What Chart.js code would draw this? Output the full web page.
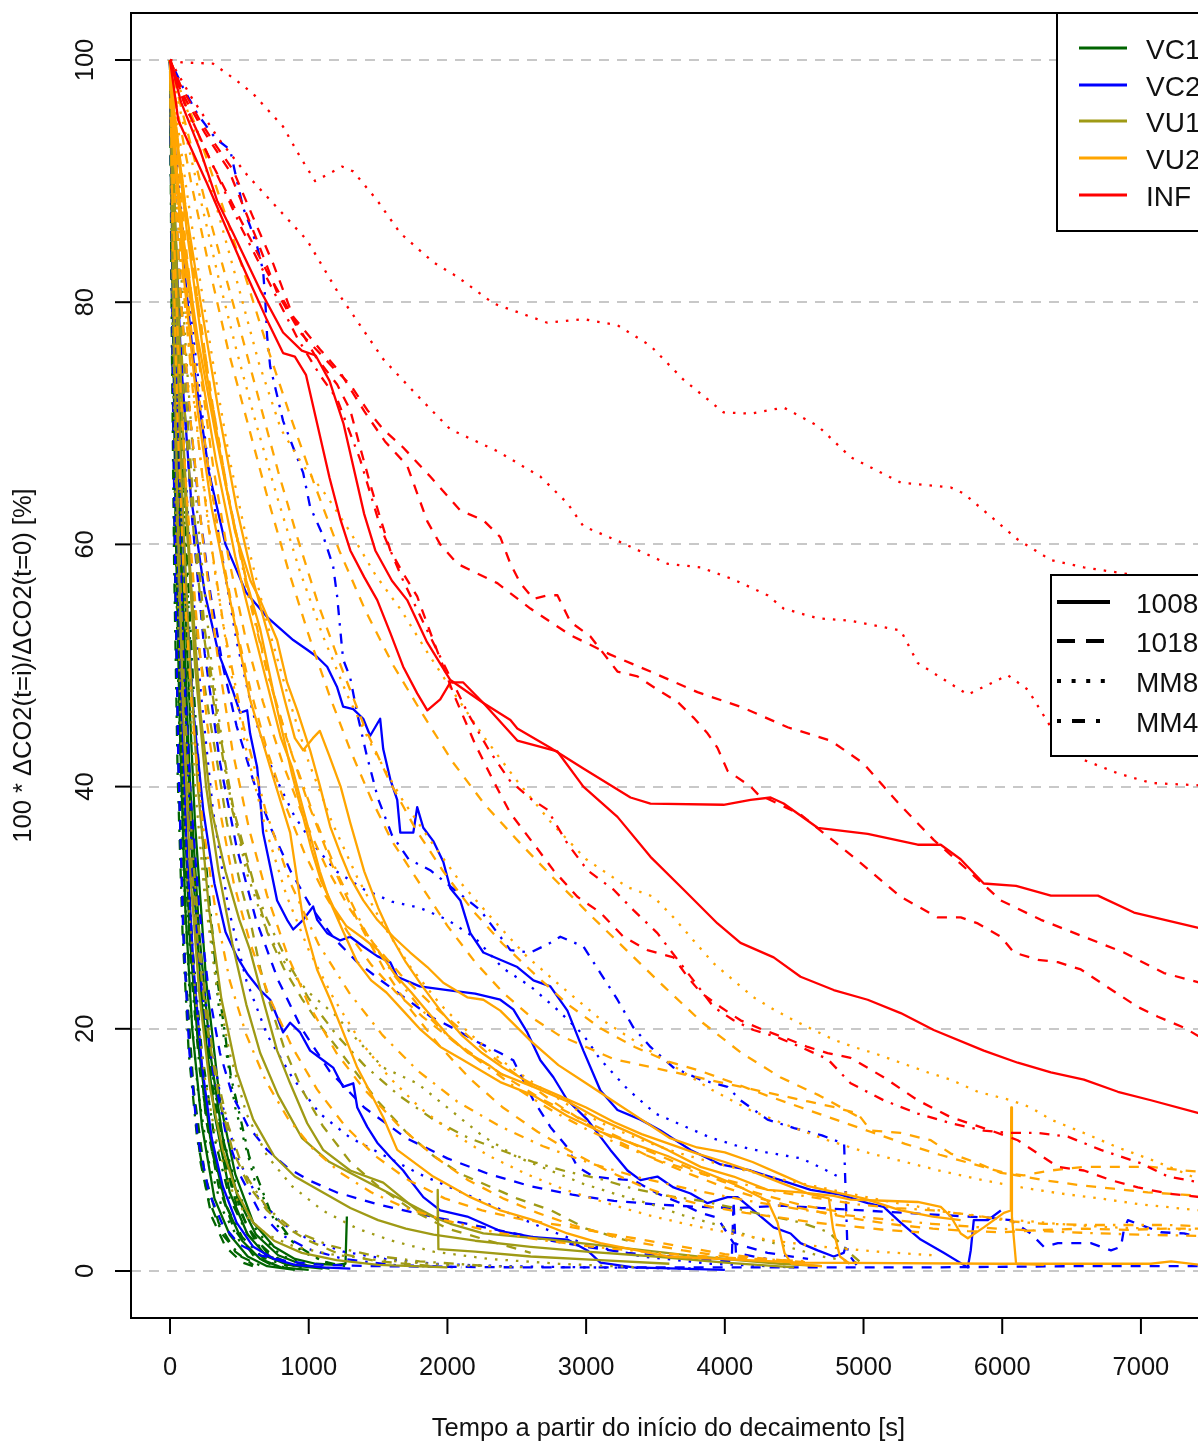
<!DOCTYPE html>
<html><head><meta charset="utf-8">
<script src="https://cdn.jsdelivr.net/npm/chart.js@4.4.1/dist/chart.umd.min.js"></script>
<style>
html,body{margin:0;padding:0;background:#fff;overflow:hidden;width:1198px;height:1441px}
#wrap{position:absolute;left:0;top:0;width:1230px;height:1441px}
</style></head>
<body><div id="wrap"><canvas id="c" width="1230" height="1441"></canvas></div>
<script>
// ---- ticks / labels ----
const X_TICKS = [0,1000,2000,3000,4000,5000,6000,7000];
const Y_TICKS = [0,20,40,60,80,100];
const X_TITLE = 'Tempo a partir do início do decaimento [s]';
const Y_TITLE = '100 * \u0394CO2(t=i)/\u0394CO2(t=0) [%]';
const SITES = ['VC1','VC2','VU1','VU2','INF'];
const SITE_COLORS = ['#006400','#0000FF','#9F9A15','#FFA500','#FF0000'];
const SERIES = ['1008','1018','MM8','MM4'];

// ---- VC1 (dark green) ----
const VC1_1008 = [
 [[0,100],[20,80],[40,62],[70,45],[110,30],[160,20],[230,12],[320,6],[430,3],[560,1.2],[700,0.4],[900,0.1]],
 [[0,100],[25,78],[55,58],[90,42],[140,28],[200,19],[290,11],[400,5.5],[520,2.5],[650,1],[800,0.3],[1000,0.1]],
 [[0,100],[30,82],[60,66],[100,50],[160,34],[230,22],[320,13],[430,6.5],[560,3],[700,1.2],[850,0.5],[1100,0.2]],
 [[0,100],[35,85],[70,70],[120,52],[180,37],[260,24],[360,14],[470,8],[600,4],[750,2],[900,1],[1050,0.6],[1200,0.5],[1265,0.6],[1275,4.5]],
 [[0,100],[28,84],[58,68],[95,54],[145,40],[210,28],[290,18],[380,11],[490,6],[620,3],[780,1.3],[960,0.5],[1150,0.2]]
];
const VC1_1018 = [
 [[0,100],[15,80],[35,60],[60,42],[100,27],[150,17],[220,9],[300,4.5],[400,2],[520,0.7],[650,0.2]],
 [[0,100],[20,84],[45,66],[80,48],[125,33],[180,22],[260,12.5],[350,7],[460,3.5],[600,1.3],[750,0.4]],
 [[0,100],[25,87],[55,72],[95,55],[150,38],[220,25],[310,15],[420,8],[550,3.8],[700,1.5],[880,0.5]],
 [[0,100],[18,75],[40,55],[70,38],[110,25],[170,15],[250,8],[350,4],[470,1.6],[600,0.5]],
 [[0,100],[22,86],[50,70],[88,53],[135,39],[195,27],[275,17],[370,10],[480,5.5],[610,2.6],[770,1],[950,0.3]]
];
const VC1_MM8 = [
 [[0,100],[15,82],[35,64],[60,48],[95,34],[140,23],[200,15],[280,9],[380,5],[500,2.5],[650,1],[820,0.3]],
 [[0,100],[22,86],[50,70],[85,55],[130,41],[190,29],[270,19],[370,11.5],[490,6.5],[630,3.2],[800,1.3],[1000,0.4]],
 [[0,100],[28,88],[65,74],[110,60],[170,46],[250,33],[350,22],[470,13.5],[610,7.5],[770,3.8],[950,1.6],[1150,0.6]]
];
const VC1_MM4 = [
 [[0,100],[18,84],[40,68],[70,52],[110,38],[160,27],[230,18],[320,11],[430,6],[560,3],[720,1.2],[900,0.4]],
 [[0,100],[12,78],[30,58],[55,41],[90,28],[135,18],[195,11],[275,6],[380,3],[510,1.2],[660,0.4]],
 [[0,100],[25,90],[60,77],[105,63],[165,49],[240,36],[330,25],[440,16],[570,9.5],[720,5],[900,2.2],[1100,0.8],[1300,0.3]],
 [[0,100],[16,82],[38,64],[65,49],[100,36],[150,25],[215,16.5],[300,10],[400,5.5],[520,2.8],[670,1.1],[850,0.4]]
];

// ---- VC2 (blue) ----
const VC2_1008 = [
 [[0,100],[40,92],[100,83],[180,74],[280,66],[400,60],[550,56],[700,54],[888,52.1],[989,51.3],[1061,50.7],[1133,49.9],[1205,48.2],[1248,46.6],[1321,46.4],[1393,45.6],[1443,44.2],[1515,45.6],[1537,43.1],[1588,40.6],[1638,38.9],[1660,36.2],[1754,36.2],[1782,38.3],[1826,36.6],[1898,35.5],[1970,33.8],[2021,31.6],[2093,30.6],[2165,27.9],[2259,26.3],[2381,25.7],[2504,25.1],[2620,24],[2742,23.5],[2865,21.5],[2980,18.2],[3103,14.9],[3226,13.3],[3392,12.5],[3536,11.6],[3753,10],[3969,8.8],[4186,8.3],[4402,7.5],[4619,6.7],[4835,6.3],[5030,5.6],[5145,5.3],[5268,4],[5412,2.6],[5578,1.5],[5752,0.3],[5773,1.7],[5795,4.2],[5896,4.2],[5990,5]],
 [[0,100],[30,88],[80,75],[150,64],[250,56],[350,51],[450,48],[505,46.1],[556,46.3],[577,44.4],[628,41.6],[650,38.9],[671,36.2],[722,33.4],[772,30.6],[844,29],[888,28.2],[960,29],[1032,30.1],[1061,29],[1133,27.9],[1227,27.3],[1299,27.6],[1393,26.8],[1494,26],[1588,25.5],[1638,24.3],[1800,23.5],[2000,23.2],[2200,22.9],[2381,22.4],[2475,21.6],[2576,19.7],[2670,17.4],[2764,16],[2865,14.1],[3009,12.5],[3175,10],[3298,8.3],[3392,7.5],[3514,7.8],[3630,6.9],[3753,6.4],[3875,5.6],[4020,6.1],[4092,6.1],[4207,5],[4352,3.6],[4474,3.1],[4546,2.3],[4669,1.7],[4785,1.2],[4857,1.5],[4871,2]],
 [[0,100],[25,85],[60,70],[110,57],[170,46],[240,38],[320,32],[400,28],[480,26],[560,24.5],[650,23.2],[722,22.4],[772,21],[815,19.7],[866,20.5],[938,19.7],[1010,18.2],[1104,17.4],[1176,16.8],[1248,15.2],[1321,15.5],[1350,13.5],[1422,11.9],[1494,10.6],[1588,9.4],[1681,8.3],[1732,7.5],[1826,6.1],[1948,5],[2143,4.5],[2381,3.3],[2620,2.8],[2865,2.6],[3009,1.7],[3103,0.7],[3341,0.3],[4000,0.1]],
 [[0,100],[20,82],[45,65],[80,48],[120,35],[170,25],[230,17],[300,11],[380,7],[480,4],[600,2],[750,1],[900,0.5],[1100,0.3],[1300,0.2]]
];
const VC2_1018 = [
 [[0,100],[30,90],[80,80],[140,71],[210,63],[290,56],[380,50],[480,45],[600,40.5],[730,36.5],[870,33],[1020,30],[1180,27.5],[1350,25.5],[1520,24],[1700,22.5],[1880,21],[2050,20],[2200,19],[2381,18],[2475,17.4],[2620,14.1],[2742,11.9],[2865,10.2],[2937,8.6],[3053,7.8],[3200,7.6],[3341,7.5],[3514,6.4],[3680,5.6],[3825,4.8],[3947,4.4],[4063,2.3],[4308,1.5],[4600,1]],
 [[0,100],[25,82],[60,64],[100,50],[150,39],[210,30],[280,23],[360,18],[450,14.5],[560,12],[700,10],[850,8.5],[1000,7.5],[1200,6.5],[1500,5.5],[1800,4.7],[2100,4],[2400,3.3],[2700,2.6],[3000,2],[3300,1.5],[3600,1.2],[3900,0.9],[4050,0.8],[4063,5.8],[4080,1.5],[4300,1]],
 [[0,100],[15,80],[35,60],[60,42],[95,28],[140,18],[200,11],[280,6.5],[380,3.8],[500,2.2],[650,1.3],[850,0.8],[1100,0.5],[1500,0.4],[2500,0.3],[4000,0.3],[5500,0.3],[6500,0.4],[7430,0.4]],
 [[0,100],[35,88],[90,74],[160,62],[250,51],[360,42],[480,35],[620,29],[780,24],[950,20],[1150,16.5],[1400,13.5],[1700,11],[2000,9.3],[2300,8],[2600,7],[2900,6.3],[3200,5.8],[3500,5.5],[3800,5.3],[4100,5.2],[4400,5.4],[4700,5.2],[5000,5],[5300,4.8],[5600,4.6],[5900,4.4],[6062,4.2],[6206,3.1],[6300,2],[6401,2.3],[6639,2.3],[6784,1.7],[6856,2],[6877,3.4],[6906,4.2],[7000,3.8],[7144,3.2],[7310,3.1],[7430,2.8]]
];
const VC2_MM8 = [
 [[0,100],[40,93],[100,85],[170,77],[260,68],[360,60],[480,52],[600,46],[750,41],[900,37.5],[1050,35],[1200,33],[1400,31.5],[1600,30.5],[1800,30],[2000,29],[2200,27.5],[2400,25],[2600,23.5],[2800,21.5],[2980,19.5],[3100,17.5],[3300,15],[3500,13],[3700,12],[3900,11],[4100,10.3],[4300,9.8],[4550,9.3],[4700,8.5],[4850,7.6]],
 [[0,100],[20,85],[50,68],[90,52],[140,38],[200,28],[280,20],[370,14],[480,9.5],[620,6.3],[800,4],[1000,2.6],[1250,1.6],[1550,1],[1900,0.6],[2400,0.4],[3000,0.3],[3800,0.2]],
 [[0,100],[30,88],[80,73],[140,60],[220,48],[310,38],[420,30],[550,24],[700,19.5],[880,16],[1080,13],[1300,11],[1550,9.5],[1800,8],[2100,6.5],[2400,5],[2700,3.5],[3000,2.2],[3400,1.2],[3900,0.6],[4500,0.3]]
];
const VC2_MM4 = [
 [[0,100],[94,97.7],[200,95.5],[330,93.5],[433,92.6],[483,90],[527,87.8],[577,86.3],[628,84.6],[671,82.6],[686,80.3],[700,77.2],[722,74.7],[772,72.3],[815,70.2],[888,68],[960,65.9],[1010,63.1],[1104,60.7],[1176,58.2],[1205,55.7],[1227,53],[1248,50.5],[1299,49],[1350,46],[1420,42.5],[1500,39],[1600,36],[1720,34],[1876,33.1],[2050,31.5],[2237,29.8],[2454,26.5],[2600,26.3],[2742,27.1],[2814,27.6],[2980,26.8],[3103,24.6],[3226,22.4],[3341,20.1],[3464,18.5],[3630,16.8],[3825,15.8],[4020,15.2],[4113,14.1],[4308,12.5],[4500,11.8],[4700,11.2],[4860,10.5],[4885,1.5],[4950,0.5]],
 [[0,100],[18,84],[42,68],[75,53],[115,41],[165,31],[230,23],[310,16.5],[400,11.5],[510,7.8],[640,5],[800,3],[1000,1.8],[1250,1],[1600,0.5],[2100,0.3]]
];

// ---- VU1 (olive) ----
const VU1_1008 = [
 [[0,100],[40,85],[90,70],[150,57],[220,46],[300,38],[400,33],[500,29],[577,26.5],[671,22.4],[772,18.2],[866,15.5],[989,12.2],[1104,10],[1299,8.3],[1537,7.3],[1782,5],[2021,3.9],[2259,3.1],[2742,2.6],[3200,2],[3800,1.2],[4400,0.6],[4700,0.4]],
 [[0,100],[50,82],[110,64],[180,50],[260,40],[350,33],[450,27],[550,22],[650,18],[780,14.5],[950,11],[1150,9],[1400,7.5],[1650,6],[1900,4.5],[1925,4.2],[1930,6.7],[1935,1.8],[2200,1.6],[2600,1.2],[3100,0.9],[3600,0.6]],
 [[0,100],[25,80],[55,62],[95,46],[145,33],[210,23],[290,15],[380,10],[480,6.5],[600,4],[750,2.5],[950,1.5],[1200,0.9],[1500,0.5],[2000,0.3]],
 [[0,100],[35,83],[80,66],[135,52],[200,40],[280,30],[370,22.5],[480,16.5],[600,12.5],[750,9.5],[900,7.8],[1100,6.5],[1300,5.2],[1500,4.2],[1700,3.5],[1900,3],[2200,2.5],[2600,2],[3000,1.6],[3500,1.2],[4000,0.7],[4500,0.3]]
];
const VU1_1018 = [
 [[0,100],[30,84],[70,70],[130,60],[200,52],[280,46],[340,42],[410,37],[505,32],[577,29],[650,25],[722,22],[820,18.5],[950,15],[1100,12],[1300,9],[1500,7],[1750,5],[2000,3.5],[2300,2.5],[2600,1.5]],
 [[0,100],[20,80],[50,62],[90,47],[140,36],[200,27],[270,20],[350,14.5],[450,10],[570,7],[700,5],[850,3.5],[1000,2.5],[1200,1.5],[1500,0.8],[1900,0.4]],
 [[0,100],[40,88],[100,75],[170,63],[250,53],[350,45],[460,38],[580,33],[700,28],[820,25],[950,22.5],[1100,20],[1300,17],[1500,14],[1700,11.5],[1900,9.5],[2100,8],[2300,7],[2500,6],[2750,5],[3000,3.5],[3300,2.5]]
];
const VU1_MM8 = [
 [[0,100],[50,88],[120,75],[200,62],[300,50],[420,40],[550,33],[700,28],[850,25],[1000,23],[1205,21],[1299,19.7],[1422,18.2],[1537,16.8],[1782,15.5],[2021,13.3],[2259,11.1],[2504,9.4],[2742,8.3],[2980,7.2],[3230,6.3],[3470,5.5],[3700,4.6],[3950,3.8],[4200,2.8],[4450,2],[4700,1.2],[5000,0.6]],
 [[0,100],[30,82],[70,66],[120,52],[180,40],[250,31],[330,24],[430,18],[550,13],[700,9.5],[880,7],[1100,5],[1350,3.5],[1600,2.5],[1900,1.6],[2300,1],[2800,0.6],[3400,0.3]],
 [[0,100],[20,78],[45,60],[80,44],[125,32],[180,23],[250,16],[330,11],[430,7],[550,4.5],[700,3],[900,2],[1150,1.4],[1500,0.9],[2000,0.5],[2600,0.3]]
];
const VU1_MM4 = [
 [[0,100],[40,86],[100,72],[170,61],[250,52],[340,45],[450,38],[570,33],[700,29],[850,25.5],[1000,22.5],[1200,19.5],[1400,17],[1650,14.5],[1900,12.5],[2150,11],[2381,10],[2620,9],[2865,8.2],[3103,7.6],[3340,6.8],[3590,6.2],[3830,5.8],[4070,5.2],[4300,4.6],[4550,4],[4750,3.2],[4900,1.5],[5000,0.5]],
 [[0,100],[25,80],[60,62],[105,47],[160,35],[230,25],[320,17],[420,12],[540,8],[700,5.2],[900,3.3],[1150,2.1],[1450,1.3],[1800,0.8],[2300,0.4]]
];

// ---- VU2 (orange) ----
const VU2_1008 = [
 [[0,100],[40,92],[100,82],[200,71],[300,63],[433,55.4],[577,47.2],[722,41.6],[866,36.2],[960,29],[1060,24.9],[1155,22.4],[1350,16.8],[1537,12.7],[1638,10],[1898,7.8],[2165,6.1],[2381,5],[2620,4.2],[2865,3.1],[3103,2.3],[3587,1.2],[4546,0.7],[5990,0.6],[7072,0.6],[7217,0.8],[7430,0.5]],
 [[0,100],[40,94],[120,86],[250,75],[400,65],[550,57],[650,53],[760,47],[880,41],[960,37.5],[1020,34.8],[1090,32.2],[1180,30],[1270,28.5],[1390,27.5],[1500,26.5],[1620,24.5],[1740,23],[1850,21.5],[2000,19.5],[2150,18],[2300,17],[2381,16.3],[2620,15.2],[2865,14],[3103,12.5],[3341,11.3],[3587,10],[3825,8.6],[4063,7.8],[4308,6.7],[4546,6.5],[4785,6.2],[4907,5.9],[5150,5.8],[5391,5.7],[5557,5.3],[5629,4.5],[5701,3.1],[5752,2.7],[5867,3.6],[6012,4.8],[6062,5],[6065,13.5],[6070,4.5],[6100,0.6],[6300,0.5]],
 [[0,100],[30,92],[100,84],[200,76],[330,67],[470,59],[600,53],[700,48.5],[800,44],[880,41.6],[940,39],[1010,36],[1080,33],[1150,30.6],[1250,28],[1350,25.5],[1450,24],[1560,23],[1680,21.5],[1800,20],[1950,18.5],[2100,17.5],[2250,16.5],[2381,15.6],[2620,14.5],[2865,12.8],[3103,11.5],[3341,10.5],[3587,9.5],[3825,8.3],[4063,7.2],[4186,6.5],[4308,5.8],[4380,4],[4430,1.5],[4480,0.6],[4700,0.4]],
 [[0,100],[35,95],[110,88],[220,80],[350,71],[480,63],[600,57],[720,52],[830,47],[900,44],[960,43],[1030,44],[1080,44.6],[1150,42.5],[1230,40],[1300,37],[1400,33],[1500,30],[1600,27.5],[1700,25.5],[1820,23.5],[1950,21.5],[2100,19.5],[2250,18],[2400,16.8],[2600,15.5],[2800,14.5],[3000,13.5],[3200,12.3],[3400,11.3],[3600,10.5],[3800,9.7],[4000,9],[4200,8.2],[4400,7.3],[4600,6.4],[4750,6],[4780,3.5],[4830,1.2],[4900,0.6]],
 [[0,100],[30,93],[100,85],[200,77],[330,69],[470,61],[580,57],[650,55.4],[772,52.1],[844,48.6],[917,46.3],[1010,43],[1082,40],[1155,36.7],[1227,34.5],[1299,32.5],[1393,30.6],[1494,29],[1609,27.6],[1732,26.3],[1855,25.1],[1970,23.8],[2143,22.6],[2259,22.4],[2381,21.5],[2600,19],[2800,17],[3000,15.5],[3200,14],[3400,12.5],[3600,11],[3800,10.2],[4000,9.8],[4200,9],[4400,8],[4600,7],[4800,6.5],[5000,6],[5268,5],[5500,4.5],[5700,4.2]]
];
const VU2_1018 = [
 [[0,100],[50,96],[150,90],[280,83],[420,76],[560,70],[700,64],[850,58],[1000,52.5],[1150,47.5],[1300,43],[1450,39],[1600,35.5],[1800,32],[2000,28.5],[2200,25.5],[2400,23],[2600,21],[2800,19.5],[3000,18.5],[3200,17.5],[3400,17],[3600,16.5],[3800,16],[4000,15.5],[4200,15],[4400,14.5],[4600,14],[4800,13.5],[4958,13],[5052,11.6],[5268,11.4],[5485,10.8],[5629,9.7],[5824,8.9],[5990,8.1],[6156,7.9],[6351,8.3],[6589,8.6],[6834,8.6],[7072,8.6],[7310,8.3],[7430,8.2]],
 [[0,100],[30,90],[80,80],[150,70],[240,60],[340,51],[450,43],[570,36.5],[700,31],[850,26],[1000,22],[1200,18],[1400,15],[1650,12],[1900,9.5],[2150,7.5],[2400,6],[2650,4.8],[2900,3.8],[3150,3],[3400,2.3],[3700,1.7],[4000,1.2],[4400,0.8]],
 [[0,100],[40,95],[110,88],[200,80],[300,72],[420,64],[550,57],[690,50],[840,44],[1000,38.5],[1170,33.5],[1350,29],[1540,25],[1740,21.5],[1950,18.5],[2170,15.8],[2400,13.5],[2650,11.5],[2900,9.8],[3150,8.3],[3400,7],[3650,6],[3900,5.3],[4150,4.8],[4400,4.4],[4650,4],[4900,3.7],[5150,3.4],[5400,3.2]],
 [[0,100],[60,97],[150,93],[260,88],[380,83],[500,78],[640,72],[780,66],[920,60.5],[1070,55],[1230,50],[1400,45],[1580,40.5],[1770,36.5],[1970,33],[2180,29.8],[2400,27],[2630,24.5],[2870,22],[3110,20],[3350,18.5],[3590,17.3],[3830,16.5],[4070,15.5],[4300,14.5],[4550,13.5],[4800,12.5],[5050,11.5],[5300,10.5],[5550,9.6],[5800,8.8],[6050,8],[6300,7.5],[6550,7.1],[6800,6.8],[7050,6.5],[7300,6.3],[7430,6.2]],
 [[0,100],[20,88],[60,76],[120,64],[190,54],[270,45],[360,38],[460,32],[580,27],[720,22.5],[880,18.5],[1060,15],[1260,12],[1480,9.5],[1720,7.5],[1980,6],[2250,5],[2520,4.3],[2800,3.8],[3100,3.2],[3400,2.6],[3700,2],[4000,1.4],[4300,1],[4600,0.7]],
 [[0,100],[45,93],[120,84],[210,75],[310,66.5],[420,59],[540,52.5],[670,47],[810,42],[960,37.5],[1120,33.5],[1290,30],[1470,27],[1660,24.5],[1860,22.3],[2070,20.2],[2290,18],[2520,16],[2760,14],[3000,12.2],[3250,10.6],[3500,9.2],[3750,8],[4000,6.9],[4250,6],[4500,5.3],[4750,4.7],[5000,4.2],[5250,3.8],[5500,3.5],[5750,3.3],[6000,3.2],[6300,3.4],[6600,3.5],[6900,3.4],[7200,3.5],[7430,3.5]],
 [[0,100],[70,98],[170,95],[290,91],[420,86.5],[560,81.5],[710,76],[870,70.5],[1040,65],[1220,59.5],[1410,54.5],[1610,50],[1820,46],[2040,42],[2270,38.5],[2510,35.5],[2760,32.5],[3020,29.5],[3290,26.5],[3560,23.5],[3840,20.5],[4120,18],[4400,16],[4680,14.5],[5000,12.5]],
 [[0,100],[25,94],[70,87],[130,80],[200,73],[280,66],[370,59.5],[470,53.5],[580,48],[700,43],[830,38.5],[970,34.5],[1120,31],[1280,28],[1450,25.3],[1630,23],[1820,21],[2020,19.2],[2230,17.5],[2450,15.8],[2680,14.2],[2920,12.8],[3170,11.4],[3430,10],[3700,8.7],[3980,7.4],[4270,6.3],[4570,5.4],[4880,4.8]]
];
const VU2_MM8 = [
 [[0,100],[60,98],[150,95],[260,91],[380,86],[500,81],[640,75],[800,69.5],[960,66.5],[1130,64],[1300,61],[1480,57.5],[1670,54.5],[1860,51],[2060,47.5],[2270,44],[2500,40.5],[2750,37],[3000,34],[3298,31.7],[3486,30.9],[3630,29.2],[3774,27.3],[3919,25.4],[4063,24],[4207,22.6],[4352,21.6],[4497,20.7],[4641,19.9],[4785,19.1],[4929,18.5],[5073,18],[5218,17.4],[5463,16.4],[5629,15.8],[5824,14.8],[6062,14.1],[6206,13.5],[6351,12.5],[6589,11.4],[6834,10.2],[7072,9.2],[7310,8.1],[7430,7.5]],
 [[0,100],[40,96],[110,90],[200,83],[310,75],[430,67],[560,60],[700,53.5],[850,47.5],[1000,42],[1170,37],[1350,32.5],[1540,28.5],[1740,25],[1950,22],[2170,19.5],[2400,17.3],[2650,15.3],[2900,13.5],[3150,12],[3400,10.8],[3650,9.8],[3900,9],[4150,8.3],[4400,7.6],[4650,7],[4900,6.4],[5150,5.8],[5400,5.3],[5650,4.8],[5900,4.4],[6200,4.1],[6500,3.8],[6800,3.6],[7100,3.5],[7430,3.4]],
 [[0,100],[25,93],[70,85],[140,76],[220,67],[320,58],[430,50],[550,43],[690,36.5],[840,31],[1000,26.5],[1180,22.5],[1370,19],[1580,16],[1800,13.5],[2050,11.3],[2300,9.5],[2570,8],[2850,6.7],[3150,5.6],[3450,4.6],[3750,3.8],[4050,3.1],[4350,2.5],[4700,2],[5100,1.6],[5500,1.3]],
 [[0,100],[50,97],[130,93],[230,88],[350,82],[480,76],[620,70],[770,64],[930,58],[1100,52.5],[1280,47.5],[1470,43],[1670,39],[1880,35.5],[2100,32],[2330,29],[2570,26],[2820,23.5],[3080,21],[3350,19],[3620,17],[3900,15],[4180,13.3],[4460,12],[4740,10.8],[5020,9.8],[5300,9],[5580,8.2],[5860,7.5],[6140,6.9],[6420,6.4],[6700,6],[7000,5.5],[7430,5]]
];
const VU2_MM4 = [
 [[0,100],[40,95],[110,88],[200,80],[300,72],[420,64],[560,56],[710,49],[870,43],[1040,37.5],[1220,32.5],[1410,28],[1610,24.5],[1820,21.5],[2040,19],[2270,17],[2510,15],[2760,13.2],[3020,11.6],[3290,10.2],[3560,9],[3840,8],[4120,7.2],[4400,6.5],[4680,6],[4960,5.5],[5240,5.2],[5500,5],[5800,4.6],[6062,4.1],[6300,3.9],[6600,3.8],[6900,3.8],[7200,3.8],[7430,3.7]],
 [[0,100],[30,92],[90,82],[170,72],[270,62],[390,53],[530,45],[690,38],[870,32],[1070,27],[1290,23],[1530,19.5],[1790,16.5],[2070,14],[2370,12],[2690,10.3],[3030,8.9],[3390,7.7],[3770,6.7],[4170,5.8],[4590,5],[5030,4.4],[5490,3.9],[5970,3.5],[6470,3.2],[6990,3],[7430,2.9]],
 [[0,100],[20,85],[55,70],[100,57],[160,46],[235,37],[325,30],[430,24],[550,19.5],[690,15.7],[850,12.6],[1030,10.1],[1230,8.1],[1450,6.5],[1700,5.2],[1980,4.2],[2300,3.3],[2650,2.6],[3050,2],[3500,1.5],[4000,1.1],[4600,0.8]]
];

// ---- INF (red) ----
const INF_1008 = [
 [[0,100],[80,96.5],[216,92.6],[339,88.4],[455,85.7],[650,81],[815,77.5],[950,76],[1050,75.6],[1150,73.5],[1250,70],[1330,66],[1400,62.5],[1480,59.5],[1600,57],[1710,55.4],[1850,52],[2021,48.8],[2259,46.9],[2454,45.5],[2504,44.8],[2742,43.2],[2980,41.5],[3320,39.1],[3464,38.6],[3991,38.5],[4186,38.9],[4330,39.1],[4424,38.6],[4669,36.6],[5030,36.1],[5391,35.2],[5557,35.2],[5700,34],[5867,32],[6100,31.8],[6351,31],[6690,31],[6950,29.6],[7430,28.3]],
 [[0,100],[60,95],[267,89.8],[527,82.9],[700,78.5],[815,75.8],[900,75.5],[980,74],[1060,70],[1150,65.5],[1230,62],[1300,59.5],[1400,57.3],[1494,55.4],[1588,52.7],[1681,49.9],[1782,47.7],[1855,46.3],[1948,47.2],[2021,48.6],[2114,48.6],[2259,46.9],[2504,43.8],[2793,42.9],[2980,40],[3226,37.5],[3464,34.2],[3702,31.5],[3947,28.7],[4113,27.1],[4352,25.9],[4546,24.3],[4785,23.2],[5030,22.4],[5268,21.3],[5506,19.9],[5867,18.2],[6112,17.2],[6351,16.4],[6589,15.8],[6834,14.8],[7072,14.1],[7430,13]]
];
const INF_1018 = [
 [[0,100],[72,98],[216,95],[310,93.3],[455,90.9],[599,87],[743,83.2],[888,78.8],[1082,76.1],[1227,74.2],[1400,71],[1550,68.5],[1710,66.5],[1855,61.9],[1948,60],[2071,58.4],[2360,56.8],[2598,54.7],[2887,52.5],[3175,50.9],[3464,49.5],[3803,47.8],[4135,46.5],[4453,44.9],[4763,43.8],[5001,41.9],[5246,38.7],[5506,35.6],[5752,33.1],[5990,30.6],[6279,29],[6589,27.6],[6877,26.3],[7166,24.6],[7430,23.8]],
 [[0,100],[100,97],[250,94],[420,91],[628,85.1],[772,80.8],[938,77.5],[1176,74.6],[1299,73.2],[1422,71.1],[1537,69.5],[1681,68],[1876,65.6],[2093,62.8],[2259,62],[2381,60.6],[2454,58.4],[2526,56.8],[2620,55.5],[2721,55.8],[2793,55.8],[2887,53.6],[3031,52.4],[3226,49.5],[3370,49.1],[3514,48],[3659,47],[3774,45.7],[3875,44.4],[3947,43.2],[4020,41.3],[4186,40],[4236,39.4],[4546,37.7],[4958,33.9],[5268,30.9],[5535,29.2],[5701,29.2],[5824,28.7],[5990,27.6],[6084,26.3],[6257,25.7],[6401,25.5],[6567,24.9],[6711,23.8],[6978,21.8],[7123,21],[7310,20.1],[7430,19.3]],
 [[0,100],[100,96.5],[300,91.5],[500,87],[700,82.5],[900,78.5],[1050,75.5],[1205,73.2],[1299,71.1],[1371,68],[1443,65],[1515,62.2],[1588,59.5],[1681,57.6],[1782,55.7],[1900,52],[2050,47.5],[2200,43.5],[2330,40.5],[2454,37.8],[2620,35.3],[2764,33.1],[2937,30.9],[3103,29.6],[3269,27.6],[3442,26.5],[3630,25.9],[3731,24.3],[3825,23],[3969,21.8],[4113,20.7],[4279,19.9],[4424,19.3],[4597,18.5],[4741,18],[4907,17.6],[5145,16],[5391,14.1],[5629,12.7],[5918,11.6],[6112,10.8],[6257,9.7],[6401,8.6],[6589,8.3],[6784,7.5],[6978,6.9],[7195,6.4],[7430,6.1]]
];
const INF_MM8 = [
 [[0,100],[87,99.8],[310,99.7],[480,98.3],[600,97.2],[815,94.5],[938,92],[1046,90],[1241,91.2],[1321,90.8],[1494,88.4],[1660,85.7],[1898,83.3],[2071,82.1],[2331,79.9],[2721,78.3],[2980,78.6],[3226,78.1],[3464,76.4],[3702,73.6],[3991,70.9],[4186,70.8],[4424,71.3],[4669,69.8],[4907,67.2],[5268,65.1],[5629,64.7],[5723,64.2],[5918,62.3],[6112,60.4],[6351,58.7],[6589,58.1],[6877,57.6],[7430,56.5]],
 [[0,100],[150,97],[350,93.5],[556,90.5],[989,85.1],[1227,80.5],[1537,75.3],[1782,72.3],[2021,69.5],[2360,67.7],[2670,65.6],[2865,63.4],[2980,61.5],[3226,60.3],[3587,58.4],[3825,58.1],[4063,57.1],[4308,55.8],[4424,54.7],[4669,53.9],[4907,53.7],[5268,52.9],[5391,50.2],[5752,47.6],[6040,49.2],[6185,48],[6351,44.9],[6589,42.2],[6834,41.1],[7072,40.3],[7430,40.1]]
];
const INF_MM4 = [
 [[0,100],[120,96],[320,91],[520,86],[720,81.5],[920,77],[1080,74],[1205,72],[1371,67],[1515,61.5],[1681,57],[1850,53],[2000,49.5],[2150,46],[2300,43],[2450,40.5],[2600,39],[2721,38.1],[2865,35.3],[3009,33.1],[3197,31.5],[3341,29.8],[3514,27.9],[3680,25.4],[3774,24],[3919,21.8],[4063,20.7],[4207,19.9],[4380,19.3],[4546,18.5],[4741,17.5],[4907,15.5],[5145,14.1],[5391,13],[5629,12.2],[5867,11.6],[6040,11.4],[6257,11.4],[6473,11.1],[6711,10],[7000,8.9],[7195,7.8],[7430,7.3]]
];

const DATA = {
 VC1:{'1008':VC1_1008,'1018':VC1_1018,'MM8':VC1_MM8,'MM4':VC1_MM4},
 VC2:{'1008':VC2_1008,'1018':VC2_1018,'MM8':VC2_MM8,'MM4':VC2_MM4},
 VU1:{'1008':VU1_1008,'1018':VU1_1018,'MM8':VU1_MM8,'MM4':VU1_MM4},
 VU2:{'1008':VU2_1008,'1018':VU2_1018,'MM8':VU2_MM8,'MM4':VU2_MM4},
 INF:{'1008':INF_1008,'1018':INF_1018,'MM8':INF_MM8,'MM4':INF_MM4}
};

// ---- styles ----
const PLOT_DASH = {'1008':[], '1018':[10,9], 'MM8':[2.5,8], 'MM4':[2.5,8,10,8]};
const LEG_DASH = {'1008':[], '1018':[18,11], 'MM8':[4,10.6], 'MM4':[4,11,13,11]};
const FONT = '"Liberation Sans", Arial, sans-serif';

const datasets = [];
// first dataset is drawn on top: INF first, VC1 last
['INF','VU2','VU1','VC2','VC1'].forEach(site => {
  const color = SITE_COLORS[SITES.indexOf(site)];
  SERIES.forEach(s => {
    DATA[site][s].forEach((curve, i) => {
      datasets.push({
        label: site + ' ' + s + ' #' + (i+1),
        data: curve.map(p => ({x:p[0], y:p[1]})),
        borderColor: color, backgroundColor: color,
        borderWidth: 2.3, borderDash: PLOT_DASH[s],
        showLine: true, pointRadius: 0, pointHoverRadius: 0, pointHitRadius: 0,
        tension: 0, fill: false, borderJoinStyle: 'round'
      });
    });
  });
});

const frame = {
  id: 'frame',
  beforeDatasetsDraw(chart) {
    const {ctx, chartArea:a, scales:{y}} = chart;
    ctx.save();
    ctx.strokeStyle = '#c8c8c8'; ctx.lineWidth = 2; ctx.setLineDash([10,8]);
    Y_TICKS.forEach(v => {
      const py = Math.round(y.getPixelForValue(v));
      ctx.beginPath(); ctx.moveTo(a.left, py); ctx.lineTo(a.right, py); ctx.stroke();
    });
    ctx.restore();
  },
  afterDraw(chart) {
    const {ctx, chartArea:a, scales:{x, y}} = chart;
    ctx.save();
    ctx.setLineDash([]);
    ctx.strokeStyle = '#000'; ctx.lineWidth = 2;
    ctx.strokeRect(a.left, a.top, a.right - a.left, a.bottom - a.top);
    // x ticks
    ctx.fillStyle = '#111';
    ctx.font = '25.5px ' + FONT;
    ctx.textAlign = 'center'; ctx.textBaseline = 'alphabetic';
    X_TICKS.forEach(v => {
      const px = x.getPixelForValue(v);
      ctx.beginPath(); ctx.moveTo(px, a.bottom); ctx.lineTo(px, a.bottom + 16); ctx.stroke();
      ctx.fillText(String(v), px, 1375);
    });
    // y ticks (rotated labels)
    Y_TICKS.forEach(v => {
      const py = y.getPixelForValue(v);
      ctx.beginPath(); ctx.moveTo(a.left, py); ctx.lineTo(a.left - 16, py); ctx.stroke();
      ctx.save(); ctx.translate(93, py); ctx.rotate(-Math.PI/2);
      ctx.fillText(String(v), 0, 0); ctx.restore();
    });
    // titles
    ctx.fillText(X_TITLE, (a.left + a.right)/2, 1436);
    ctx.save(); ctx.translate(31, (a.top + a.bottom)/2); ctx.rotate(-Math.PI/2);
    ctx.fillText(Y_TITLE, 0, 0); ctx.restore();

    // legend 1 (sites)
    const L1 = {l:1057, t:a.top, r:a.right, b:231};
    ctx.fillStyle = '#fff'; ctx.fillRect(L1.l, L1.t, L1.r - L1.l, L1.b - L1.t);
    ctx.strokeStyle = '#000'; ctx.lineWidth = 2; ctx.strokeRect(L1.l, L1.t, L1.r - L1.l, L1.b - L1.t);
    const l1y = [48, 85, 121, 158, 195];
    ctx.font = '28px ' + FONT; ctx.textAlign = 'left';
    SITES.forEach((s, i) => {
      ctx.strokeStyle = SITE_COLORS[i]; ctx.lineWidth = 3;
      ctx.beginPath(); ctx.moveTo(1079, l1y[i]); ctx.lineTo(1127, l1y[i]); ctx.stroke();
      ctx.fillStyle = '#111'; ctx.fillText(s, 1146, l1y[i] + 11);
    });
    // legend 2 (series)
    const L2 = {l:1051, t:575, r:a.right, b:756};
    ctx.fillStyle = '#fff'; ctx.fillRect(L2.l, L2.t, L2.r - L2.l, L2.b - L2.t);
    ctx.strokeStyle = '#000'; ctx.lineWidth = 2; ctx.strokeRect(L2.l, L2.t, L2.r - L2.l, L2.b - L2.t);
    const l2y = [602, 641, 681, 721];
    ctx.font = '28px ' + FONT;
    SERIES.forEach((s, i) => {
      ctx.strokeStyle = '#000'; ctx.lineWidth = 4; ctx.setLineDash(LEG_DASH[s]);
      ctx.beginPath(); ctx.moveTo(1057, l2y[i]); ctx.lineTo(1110, l2y[i]); ctx.stroke();
      ctx.setLineDash([]);
      ctx.fillStyle = '#111'; ctx.fillText(s, 1136, l2y[i] + 11);
    });
    ctx.restore();
  }
};

new Chart(document.getElementById('c'), {
  type: 'scatter',
  data: { datasets },
  options: {
    responsive: false, animation: false, normalized: true,
    layout: { padding: { left: 131, top: 13, right: 1230 - 1206, bottom: 1441 - 1318 } },
    plugins: { legend: { display: false }, tooltip: { enabled: false } },
    events: [],
    scales: {
      x: { type: 'linear', display: false, min: -281.4, max: 7469.2 },
      y: { type: 'linear', display: false, min: -3.88, max: 103.88 }
    }
  },
  plugins: [frame]
});
</script>
</body></html>
